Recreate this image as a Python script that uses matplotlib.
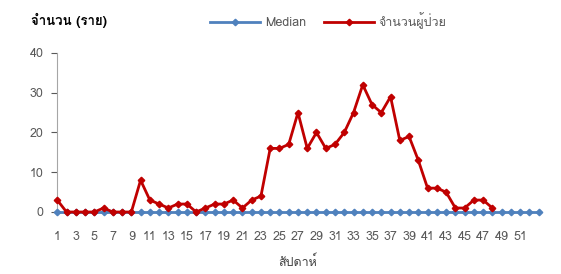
import matplotlib
matplotlib.use('Agg')
import matplotlib.pyplot as plt
from matplotlib import font_manager
from matplotlib.ft2font import FT2Font

# หา font ที่มีอักษรไทย
thai_font = None
for f in font_manager.fontManager.ttflist:
    try:
        if FT2Font(f.fname).get_char_index(ord('จ')):
            thai_font = f.name
            break
    except Exception:
        pass
fams = [thai_font, 'DejaVu Sans'] if thai_font else ['DejaVu Sans']
plt.rcParams['font.family'] = fams

# ข้อมูล
weeks_median = list(range(1, 54))
median = [0] * 53
weeks_cases = list(range(1, 49))
cases = [3, 0, 0, 0, 0, 1, 0, 0, 0, 8,
         3, 2, 1, 2, 2, 0, 1, 2, 2, 3,
         1, 3, 4, 16, 16, 17, 25, 16, 20, 16,
         17, 20, 25, 32, 27, 25, 29, 18, 19, 13,
         6, 6, 5, 1, 1, 3, 3, 1]
xticks = list(range(1, 52, 2))
yticks = [0, 10, 20, 30, 40]

fig = plt.figure(figsize=(5.61, 2.74), dpi=100)
ax = fig.add_axes([0.1021, 0.2263, 0.8581, 0.5803])

ax.plot(weeks_median, median, color='#4F81BD', lw=2, marker='D', ms=3.3,
        label='Median', clip_on=False, zorder=3)
ax.plot(weeks_cases, cases, color='#C00000', lw=2, marker='D', ms=3.3,
        label='จำนวนผู้ป่วย', clip_on=False, zorder=4)

ax.set_xlim(1, 53)
ax.set_ylim(0, 40)
ax.set_xticks(xticks)
ax.set_yticks(yticks)
ax.tick_params(axis='x', length=0, labelsize=9, colors='#595959', pad=14)
ax.tick_params(axis='y', length=4, direction='out', labelsize=9,
               colors='#595959', pad=6)
for s in ['top', 'right', 'bottom']:
    ax.spines[s].set_visible(False)
ax.spines['left'].set_color('#A6A6A6')

ax.set_xlabel('สัปดาห์', fontsize=9, color='#404040', labelpad=9)
fig.text(0.055, 0.925, 'จำนวน (ราย)', fontsize=9.5, fontweight='bold',
         color='black', va='center')

leg = fig.legend(loc='center', bbox_to_anchor=(0.585, 0.925), ncol=2,
                 frameon=False, fontsize=9, handlelength=4.0,
                 columnspacing=1.4, handletextpad=0.4)
for t in leg.get_texts():
    t.set_color('#595959')

plt.savefig('out.png', dpi=100)
